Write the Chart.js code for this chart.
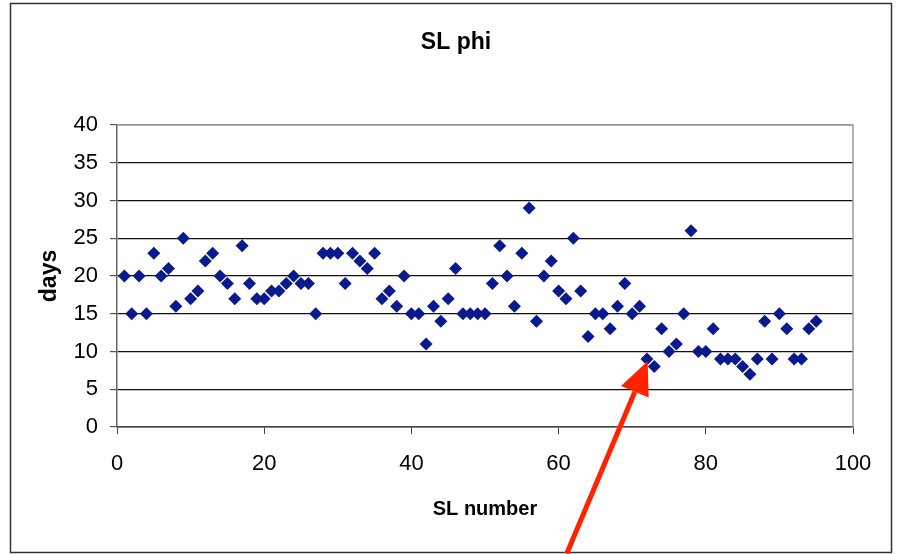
<!DOCTYPE html>
<html>
<head>
<meta charset="utf-8">
<title>SL phi</title>
<script src="https://cdn.jsdelivr.net/npm/chart.js@4"></script>
<style>
  html, body { margin: 0; padding: 0; background: #fff; }
  canvas { display: block; }
</style>
</head>
<body>
<canvas id="scatterChart" width="899" height="554"></canvas>
<script>
// Số thứ tự SL (trục x)
const slNumbers = [
    1, 2, 3, 4, 5, 6, 7, 8, 9, 10, 11, 12, 13, 14, 15, 16, 17, 18, 19, 20,
    21, 22, 23, 24, 25, 26, 27, 28, 29, 30, 31, 32, 33, 34, 35, 36, 37, 38, 39, 40,
    41, 42, 43, 44, 45, 46, 47, 48, 49, 50, 51, 52, 53, 54, 55, 56, 57, 58, 59, 60,
    61, 62, 63, 64, 65, 66, 67, 68, 69, 70, 71, 72, 73, 74, 75, 76, 77, 78, 79, 80,
    81, 82, 83, 84, 85, 86, 87, 88, 89, 90, 91, 92, 93, 94, 95
];

// Số ngày (trục y)
const days = [
    20, 15, 20, 15, 23, 20, 21, 16, 25, 17, 18, 22, 23, 20, 19, 17, 24, 19, 17, 17,
    18, 18, 19, 20, 19, 19, 15, 23, 23, 23, 19, 23, 22, 21, 23, 17, 18, 16, 20, 15,
    15, 11, 16, 14, 17, 21, 15, 15, 15, 15, 19, 24, 20, 16, 23, 29, 14, 20, 22, 18,
    17, 25, 18, 12, 15, 15, 13, 16, 19, 15, 16, 9, 8, 13, 10, 11, 15, 26, 10, 10,
    13, 9, 9, 9, 8, 7, 9, 14, 9, 15, 13, 9, 9, 13, 14
];

// Nhãn trục
const xTicks = [0, 20, 40, 60, 80, 100];
const yTicks = [0, 5, 10, 15, 20, 25, 30, 35, 40];
const chartTitle = 'SL phi';

// Mũi tên đỏ (toạ độ dữ liệu)
const arrowTip = [72.1, 8.7];
const arrowTail = [61.1, -16.8];

const sans = "'Liberation Sans', Arial, sans-serif";

const points = slNumbers.map((n, i) => ({ x: n, y: days[i] }));

// Khung ngoài, tiêu đề + viền vùng vẽ
const framePlugin = {
    id: 'frame',
    beforeDraw(chart) {
        const ctx = chart.ctx;
        ctx.save();
        ctx.fillStyle = '#fff';
        ctx.fillRect(0, 0, chart.width, chart.height);
        ctx.strokeStyle = '#333';
        ctx.lineWidth = 1.5;
        ctx.strokeRect(10.5, 3.5, 881, 549);
        // tiêu đề, căn giữa khung ngoài
        ctx.fillStyle = '#000';
        ctx.font = 'bold 23px ' + sans;
        ctx.textAlign = 'center';
        ctx.textBaseline = 'middle';
        ctx.fillText(chartTitle, 456, 43);
        ctx.restore();
    },
    afterDatasetsDraw(chart) {
        const a = chart.chartArea;
        const ctx = chart.ctx;
        ctx.save();
        ctx.strokeStyle = '#9a9a9a';
        ctx.lineWidth = 1.5;
        ctx.beginPath();
        ctx.moveTo(a.left, a.top);
        ctx.lineTo(a.right, a.top);
        ctx.lineTo(a.right, a.bottom);
        ctx.stroke();
        ctx.restore();
    }
};

// Vẽ mũi tên
const arrowPlugin = {
    id: 'arrow',
    afterDraw(chart) {
        const xs = chart.scales.x, ys = chart.scales.y;
        const tx = xs.getPixelForValue(arrowTip[0]);
        const ty = ys.getPixelForValue(arrowTip[1]);
        const bx = xs.getPixelForValue(arrowTail[0]);
        const by = ys.getPixelForValue(arrowTail[1]);
        const len = Math.hypot(bx - tx, by - ty);
        const dx = (bx - tx) / len, dy = (by - ty) / len;
        const headLen = 33, headHalf = 15;
        const cx = tx + dx * headLen, cy = ty + dy * headLen;
        const ctx = chart.ctx;
        ctx.save();
        ctx.strokeStyle = '#ff2200';
        ctx.fillStyle = '#ff2200';
        ctx.lineWidth = 5;
        ctx.beginPath();
        ctx.moveTo(cx, cy);
        ctx.lineTo(bx, by);
        ctx.stroke();
        ctx.beginPath();
        ctx.moveTo(tx, ty);
        ctx.lineTo(cx - dy * headHalf, cy + dx * headHalf);
        ctx.lineTo(cx + dy * headHalf, cy - dx * headHalf);
        ctx.closePath();
        ctx.fill();
        ctx.restore();
    }
};

const ctx = document.getElementById('scatterChart').getContext('2d');
const scatterChart = new Chart(ctx, {
    type: 'scatter',
    data: {
        datasets: [{
            data: points,
            pointStyle: 'rectRot',
            pointRadius: 6.5,
            backgroundColor: '#0a1a8c',
            borderColor: '#0a1a8c',
            borderWidth: 0
        }]
    },
    options: {
        responsive: false,
        animation: false,
        layout: {
            padding: { left: 0, right: 46, top: 125, bottom: 0 }
        },
        plugins: {
            legend: { display: false },
            tooltip: { enabled: false },
            title: { display: false }
        },
        scales: {
            x: {
                type: 'linear',
                min: xTicks[0],
                max: xTicks[xTicks.length - 1],
                afterBuildTicks(scale) {
                    scale.ticks = xTicks.map(v => ({ value: v }));
                },
                afterFit(scale) {
                    scale.height = 127;
                },
                ticks: {
                    color: '#000',
                    font: { family: sans, size: 22 },
                    padding: 17,
                    maxRotation: 0
                },
                grid: {
                    drawOnChartArea: false,
                    drawTicks: true,
                    tickLength: 7,
                    tickColor: '#444'
                },
                border: { color: '#444', width: 1.5 },
                title: {
                    display: true,
                    text: 'SL number',
                    color: '#000',
                    font: { family: sans, size: 20, weight: 'bold' },
                    padding: { top: 0, bottom: 33 }
                }
            },
            y: {
                type: 'linear',
                min: yTicks[0],
                max: yTicks[yTicks.length - 1],
                afterBuildTicks(scale) {
                    scale.ticks = yTicks.map(v => ({ value: v }));
                },
                afterFit(scale) {
                    scale.width = 117;
                },
                ticks: {
                    color: '#000',
                    font: { family: sans, size: 22 },
                    padding: 12
                },
                grid: {
                    color: (c) => (c.tick && c.tick.value === 40) ? '#9a9a9a' : '#111',
                    lineWidth: 1.2,
                    drawTicks: true,
                    tickLength: 7,
                    tickColor: '#555'
                },
                border: { color: '#666', width: 1.5 },
                title: {
                    display: true,
                    text: 'days',
                    color: '#000',
                    font: { family: sans, size: 23, weight: 'bold' },
                    padding: { top: 36, bottom: 0 }
                }
            }
        }
    },
    plugins: [framePlugin, arrowPlugin]
});
</script>
</body>
</html>
